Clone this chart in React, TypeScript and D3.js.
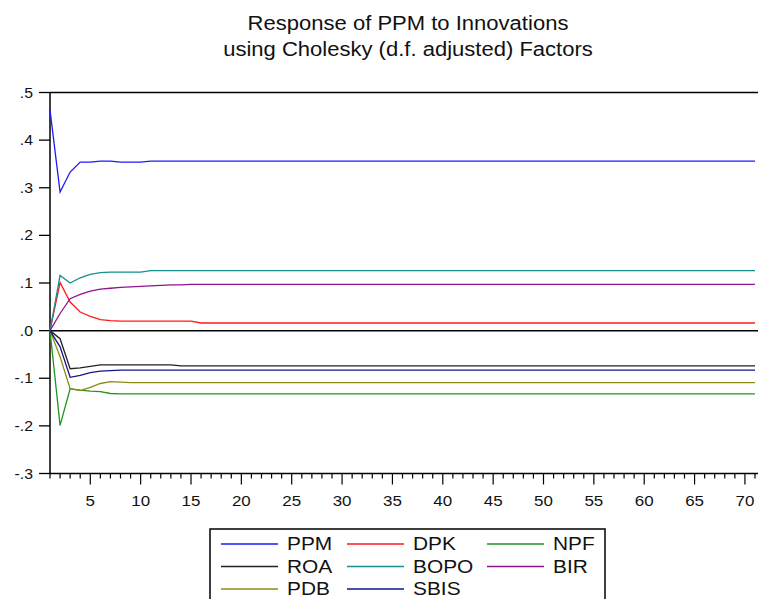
import * as d3 from 'd3';

// impulse response periods 1..71
const periods = d3.range(1, 72);

const ppm = [
  0.463, 0.291, 0.333, 0.354, 0.354, 0.356, 0.356, 0.354, 0.354, 0.354,
  0.356, 0.356, 0.356, 0.356, 0.356, 0.356, 0.356, 0.356, 0.356, 0.356,
  0.356, 0.356, 0.356, 0.356, 0.356, 0.356, 0.356, 0.356, 0.356, 0.356,
  0.356, 0.356, 0.356, 0.356, 0.356, 0.356, 0.356, 0.356, 0.356, 0.356,
  0.356, 0.356, 0.356, 0.356, 0.356, 0.356, 0.356, 0.356, 0.356, 0.356,
  0.356, 0.356, 0.356, 0.356, 0.356, 0.356, 0.356, 0.356, 0.356, 0.356,
  0.356, 0.356, 0.356, 0.356, 0.356, 0.356, 0.356, 0.356, 0.356, 0.356,
  0.356,
];
const dpk = [
  0, 0.101, 0.06, 0.039, 0.03, 0.023, 0.021, 0.02, 0.02, 0.02,
  0.02, 0.02, 0.02, 0.02, 0.02, 0.016, 0.016, 0.016, 0.016, 0.016,
  0.016, 0.016, 0.016, 0.016, 0.016, 0.016, 0.016, 0.016, 0.016, 0.016,
  0.016, 0.016, 0.016, 0.016, 0.016, 0.016, 0.016, 0.016, 0.016, 0.016,
  0.016, 0.016, 0.016, 0.016, 0.016, 0.016, 0.016, 0.016, 0.016, 0.016,
  0.016, 0.016, 0.016, 0.016, 0.016, 0.016, 0.016, 0.016, 0.016, 0.016,
  0.016, 0.016, 0.016, 0.016, 0.016, 0.016, 0.016, 0.016, 0.016, 0.016,
  0.016,
];
const npf = [
  0, -0.199, -0.122, -0.125, -0.127, -0.128, -0.132, -0.133, -0.133, -0.133,
  -0.133, -0.133, -0.133, -0.133, -0.133, -0.133, -0.133, -0.133, -0.133, -0.133,
  -0.133, -0.133, -0.133, -0.133, -0.133, -0.133, -0.133, -0.133, -0.133, -0.133,
  -0.133, -0.133, -0.133, -0.133, -0.133, -0.133, -0.133, -0.133, -0.133, -0.133,
  -0.133, -0.133, -0.133, -0.133, -0.133, -0.133, -0.133, -0.133, -0.133, -0.133,
  -0.133, -0.133, -0.133, -0.133, -0.133, -0.133, -0.133, -0.133, -0.133, -0.133,
  -0.133, -0.133, -0.133, -0.133, -0.133, -0.133, -0.133, -0.133, -0.133, -0.133,
  -0.133,
];
const roa = [
  0, -0.017, -0.08, -0.078, -0.075, -0.072, -0.072, -0.072, -0.072, -0.072,
  -0.072, -0.072, -0.072, -0.074, -0.074, -0.074, -0.074, -0.074, -0.074, -0.074,
  -0.074, -0.074, -0.074, -0.074, -0.074, -0.074, -0.074, -0.074, -0.074, -0.074,
  -0.074, -0.074, -0.074, -0.074, -0.074, -0.074, -0.074, -0.074, -0.074, -0.074,
  -0.074, -0.074, -0.074, -0.074, -0.074, -0.074, -0.074, -0.074, -0.074, -0.074,
  -0.074, -0.074, -0.074, -0.074, -0.074, -0.074, -0.074, -0.074, -0.074, -0.074,
  -0.074, -0.074, -0.074, -0.074, -0.074, -0.074, -0.074, -0.074, -0.074, -0.074,
  -0.074,
];
const bopo = [
  0, 0.116, 0.1, 0.111, 0.118, 0.122, 0.123, 0.123, 0.123, 0.123,
  0.126, 0.126, 0.126, 0.126, 0.126, 0.126, 0.126, 0.126, 0.126, 0.126,
  0.126, 0.126, 0.126, 0.126, 0.126, 0.126, 0.126, 0.126, 0.126, 0.126,
  0.126, 0.126, 0.126, 0.126, 0.126, 0.126, 0.126, 0.126, 0.126, 0.126,
  0.126, 0.126, 0.126, 0.126, 0.126, 0.126, 0.126, 0.126, 0.126, 0.126,
  0.126, 0.126, 0.126, 0.126, 0.126, 0.126, 0.126, 0.126, 0.126, 0.126,
  0.126, 0.126, 0.126, 0.126, 0.126, 0.126, 0.126, 0.126, 0.126, 0.126,
  0.126,
];
const bir = [
  0, 0.036, 0.067, 0.076, 0.083, 0.087, 0.089, 0.091, 0.092, 0.093,
  0.094, 0.095, 0.096, 0.096, 0.097, 0.097, 0.097, 0.097, 0.097, 0.097,
  0.097, 0.097, 0.097, 0.097, 0.097, 0.097, 0.097, 0.097, 0.097, 0.097,
  0.097, 0.097, 0.097, 0.097, 0.097, 0.097, 0.097, 0.097, 0.097, 0.097,
  0.097, 0.097, 0.097, 0.097, 0.097, 0.097, 0.097, 0.097, 0.097, 0.097,
  0.097, 0.097, 0.097, 0.097, 0.097, 0.097, 0.097, 0.097, 0.097, 0.097,
  0.097, 0.097, 0.097, 0.097, 0.097, 0.097, 0.097, 0.097, 0.097, 0.097,
  0.097,
];
const pdb = [
  0, -0.055, -0.122, -0.126, -0.119, -0.111, -0.107, -0.108, -0.109, -0.109,
  -0.109, -0.109, -0.109, -0.109, -0.109, -0.109, -0.109, -0.109, -0.109, -0.109,
  -0.109, -0.109, -0.109, -0.109, -0.109, -0.109, -0.109, -0.109, -0.109, -0.109,
  -0.109, -0.109, -0.109, -0.109, -0.109, -0.109, -0.109, -0.109, -0.109, -0.109,
  -0.109, -0.109, -0.109, -0.109, -0.109, -0.109, -0.109, -0.109, -0.109, -0.109,
  -0.109, -0.109, -0.109, -0.109, -0.109, -0.109, -0.109, -0.109, -0.109, -0.109,
  -0.109, -0.109, -0.109, -0.109, -0.109, -0.109, -0.109, -0.109, -0.109, -0.109,
  -0.109,
];
const sbis = [
  0, -0.034, -0.098, -0.094, -0.088, -0.085, -0.084, -0.083, -0.083, -0.083,
  -0.083, -0.083, -0.083, -0.083, -0.083, -0.083, -0.083, -0.083, -0.083, -0.083,
  -0.083, -0.083, -0.083, -0.083, -0.083, -0.083, -0.083, -0.083, -0.083, -0.083,
  -0.083, -0.083, -0.083, -0.083, -0.083, -0.083, -0.083, -0.083, -0.083, -0.083,
  -0.083, -0.083, -0.083, -0.083, -0.083, -0.083, -0.083, -0.083, -0.083, -0.083,
  -0.083, -0.083, -0.083, -0.083, -0.083, -0.083, -0.083, -0.083, -0.083, -0.083,
  -0.083, -0.083, -0.083, -0.083, -0.083, -0.083, -0.083, -0.083, -0.083, -0.083,
  -0.083,
];

const seriesNames = ['PPM', 'DPK', 'NPF', 'ROA', 'BOPO', 'BIR', 'PDB', 'SBIS'];
const seriesValues = [ppm, dpk, npf, roa, bopo, bir, pdb, sbis];
const seriesColors = ['#1a1aff', '#ff1a1a', '#1f961f', '#222222', '#149090', '#901490', '#8c8c14', '#14148c'];

const yTicks = [0.5, 0.4, 0.3, 0.2, 0.1, 0, -0.1, -0.2, -0.3];
const xTicks = [5, 10, 15, 20, 25, 30, 35, 40, 45, 50, 55, 60, 65, 70];
const titleLines = ['Response of PPM to Innovations', 'using Cholesky (d.f. adjusted) Factors'];

const FONT = 'Arial, "Liberation Sans", sans-serif';
const SX = 1.13; // the original text is horizontally stretched

const W = 758;
const H = 599;
const left = 50;
const top = 92.5;
const bottom = 473.5;
const right = 755;

const Txt = ({ x, y, size, anchor = 'start', children }: any) => (
  <g transform={`translate(${x},${y}) scale(${SX},1)`}>
    <text fontFamily={FONT} fontSize={size} textAnchor={anchor} fill="#111">{children}</text>
  </g>
);

const fmtY = (v: number) => v.toFixed(1).replace('0.', '.');

export default function App() {
  const x = d3.scaleLinear().domain([1, 71]).range([left, right]);
  const y = d3.scaleLinear().domain([-0.3, 0.5]).range([bottom, top]);

  const line = d3.line<number>()
    .x((_, i) => x(periods[i]))
    .y(d => y(d));

  const legendCols = [221, 347, 487];
  const legendRows = [544, 566.5, 589];

  return (
    <svg width={W} height={H} style={{ position: 'absolute', left: 0, top: 0, background: '#fff' }}>
      {titleLines.map((t, i) => (
        <Txt key={t} x={408} y={30 + i * 26} size={19.5} anchor="middle">{t}</Txt>
      ))}

      {/* frame */}
      <line x1={left} x2={W} y1={top} y2={top} stroke="#000" strokeWidth={1.5} />
      <line x1={left} x2={W} y1={bottom} y2={bottom} stroke="#000" strokeWidth={1.5} />
      <line x1={left} x2={left} y1={top} y2={bottom} stroke="#000" strokeWidth={1.5} />

      {/* y axis */}
      {yTicks.map(v => (
        <g key={v}>
          <line x1={39} x2={left} y1={y(v)} y2={y(v)} stroke="#000" strokeWidth={1.3} />
          <Txt x={33} y={y(v) + 5} size={14} anchor="end">{fmtY(v)}</Txt>
        </g>
      ))}

      {/* x axis */}
      {periods.map(p => (
        <line key={p} x1={x(p)} x2={x(p)} y1={bottom} y2={bottom + (p % 5 === 0 ? 11 : 5)} stroke="#000" strokeWidth={1.2} />
      ))}
      {xTicks.map(p => (
        <Txt key={p} x={x(p)} y={506} size={15} anchor="middle">{p}</Txt>
      ))}

      {/* zero line */}
      <line x1={left} x2={W} y1={y(0)} y2={y(0)} stroke="#000" strokeWidth={1.5} />

      {seriesValues.map((vals, i) => (
        <path key={seriesNames[i]} d={line(vals) || ''} fill="none" stroke={seriesColors[i]} strokeWidth={1.3} />
      ))}

      {/* legend */}
      <rect x={210} y={529} width={395} height={90} fill="#fff" stroke="#000" strokeWidth={1.5} />
      {seriesNames.map((name, i) => {
        const cx = legendCols[i % 3];
        const cy = legendRows[Math.floor(i / 3)];
        return (
          <g key={name}>
            <line x1={cx} x2={cx + 57} y1={cy} y2={cy} stroke={seriesColors[i]} strokeWidth={1.4} />
            <Txt x={cx + 66} y={cy + 6} size={18.5}>{name}</Txt>
          </g>
        );
      })}
    </svg>
  );
}
